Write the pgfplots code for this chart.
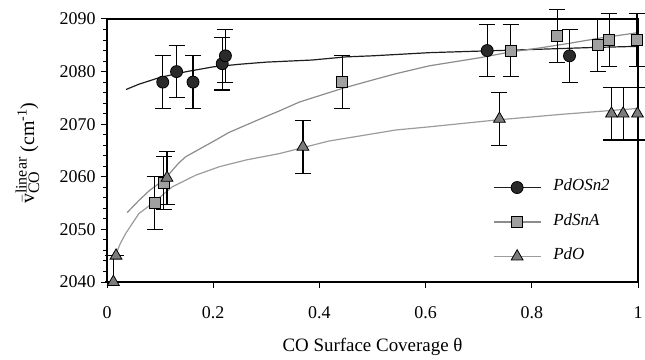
\documentclass[border=0pt]{standalone}
\usepackage{fontspec}
\setmainfont{Liberation Serif}
\usepackage{pgfplots}
\usepackage{pgfplotstable}
\pgfplotsset{compat=1.18}
\definecolor{cA}{HTML}{2A2A2A}
\definecolor{cB}{HTML}{A0A0A0}
\definecolor{cC}{HTML}{7C7C7C}
\definecolor{lA}{HTML}{1E1E1E}
\definecolor{lB}{HTML}{8C8C8C}
\definecolor{lC}{HTML}{9C9C9C}
\pgfplotstableread{
x y e
0.105 2078 5
0.131 2080 5
0.162 2078 5
0.217 2081.5 5
0.223 2083 5
0.716 2084 5
0.871 2083 5
}\ptsA
\pgfplotstableread{
x y e
0.090 2055 5
0.107 2058.8 5
0.443 2078 5
0.760 2084 5
0.848 2086.8 5
0.924 2085 5
0.946 2086 5
0.998 2086 5
}\ptsB
\pgfplotstableread{
x y ep em
0.012 2040 5 0
0.017 2045 0 0
0.113 2059.8 5 5
0.369 2065.7 5 5
0.739 2071 5 5
0.950 2072 5 5
0.972 2072 5 5
0.999 2072 5 5
}\ptsC
\pgfplotstableread{
x y
0.036 2076.6
0.06 2077.6
0.1 2078.9
0.15 2080.0
0.2 2080.9
0.25 2081.4
0.3 2081.8
0.386 2082.2
0.45 2082.8
0.5 2083.0
0.607 2083.6
0.67 2083.8
0.8 2084.2
0.92 2084.6
1.0 2084.8
}\fitA
\pgfplotstableread{
x y
0.038 2053.2
0.06 2055.5
0.08 2057.4
0.107 2059.4
0.135 2062.6
0.148 2063.8
0.205 2067.0
0.229 2068.4
0.3 2071.5
0.324 2072.5
0.362 2074.2
0.443 2076.8
0.5 2078.4
0.544 2079.6
0.607 2081.1
0.7 2082.6
0.758 2083.7
0.815 2084.5
0.872 2085.4
0.93 2086.4
1.0 2087.4
}\fitB
\pgfplotstableread{
x y
0.016 2045.1
0.025 2047.3
0.035 2049.2
0.060 2053.0
0.085 2054.9
0.123 2058.1
0.167 2060.3
0.211 2061.9
0.262 2063.2
0.324 2064.4
0.418 2066.8
0.544 2068.9
0.607 2069.5
0.733 2070.8
0.859 2071.9
1.0 2073.0
}\fitC
\begin{document}
\begin{tikzpicture}[x=1bp,y=1bp]
\useasboundingbox (0,0) rectangle (645,359);
\begin{axis}[
  at={(107bp,77bp)}, anchor=south west,
  scale only axis, width=531bp, height=263bp,
  xmin=0, xmax=1, ymin=2040, ymax=2090,
  clip=false,
  axis line style={line width=1.2bp},
  every tick/.style={black, line width=1bp},
  tick align=outside,
  major tick length=6bp, minor tick length=4bp,
  xtick={0,0.2,0.4,0.6,0.8,1}, xticklabels={0,0.2,0.4,0.6,0.8,1},
  ytick={2040,2050,2060,2070,2080,2090},
  yticklabels={2040,2050,2060,2070,2080,2090},
  minor y tick num=4,
  xtick pos=left, ytick pos=left,
  tick label style={font=\fontsize{18}{18}\selectfont},
  yticklabel style={xshift=-2bp},
  xticklabel style={yshift=-15bp},
  xlabel={CO Surface Coverage θ},
  xlabel style={at={(axis description cs:0.5,-0.245)}, anchor=center, font=\fontsize{19}{19}\selectfont},
  ylabel={$\bar{\hbox{v}}_{\hbox{\fontsize{16}{16}\selectfont CO}}^{\hbox{\fontsize{16}{16}\selectfont linear}}$ (cm\textsuperscript{-1})},
  ylabel style={at={(axis description cs:-0.150,0.49)}, anchor=center, rotate=0, font=\fontsize{20}{20}\selectfont},
  legend image code/.code={\draw[mark repeat=2,mark phase=2,#1] plot coordinates {(0bp,0bp) (23.5bp,0bp) (47bp,0bp)};},
  legend style={draw=none, fill=none, at={(axis description cs:0.727,0.228)}, anchor=west,
    font=\fontsize{17}{17}\selectfont\itshape, row sep=18.5bp, column sep=12bp,
    inner sep=0pt, outer sep=0pt, nodes={inner sep=0pt, text height=11bp, text depth=5bp}},
  legend cell align=left,
]
\addlegendimage{line width=1.2bp, color=lA, mark=*, mark size=6bp, mark options={fill=cA, draw=black, line width=0.8bp}}
\addlegendentry{PdOSn2}
\addlegendimage{line width=1.2bp, color=lB, mark=square*, mark size=5.5bp, mark options={fill=cB, draw=black, line width=0.8bp}}
\addlegendentry{PdSnA}
\addlegendimage{line width=1.2bp, color=lC, mark=triangle*, mark size=6.8bp, mark options={fill=cC, draw=black, line width=0.8bp}}
\addlegendentry{PdO}
% fitted curves
\addplot[forget plot, no marks, line width=1.2bp, color=lA] table[x=x,y=y] {\fitA};
\addplot[forget plot, no marks, line width=1.2bp, color=lB] table[x=x,y=y] {\fitB};
\addplot[forget plot, no marks, line width=1.2bp, color=lC] table[x=x,y=y] {\fitC};
% data points with error bars
\addplot[forget plot, only marks, mark=*, mark size=6bp, mark options={fill=cA, draw=black, line width=0.8bp},
  error bars/.cd, y dir=both, y explicit,
  error bar style={line width=1.2bp, black},
  error mark options={rotate=90, mark size=8bp, line width=1.2bp, black}]
  table[x=x, y=y, y error=e] {\ptsA};
\addplot[forget plot, only marks, mark=square*, mark size=5.5bp, mark options={fill=cB, draw=black, line width=0.8bp},
  error bars/.cd, y dir=both, y explicit,
  error bar style={line width=1.2bp, black},
  error mark options={rotate=90, mark size=8bp, line width=1.2bp, black}]
  table[x=x, y=y, y error=e] {\ptsB};
\addplot[forget plot, only marks, mark=triangle*, mark size=6.8bp, mark options={fill=cC, draw=black, line width=0.8bp},
  error bars/.cd, y dir=both, y explicit,
  error bar style={line width=1.2bp, black},
  error mark options={rotate=90, mark size=8bp, line width=1.2bp, black}]
  table[x=x, y=y, y error plus=ep, y error minus=em] {\ptsC};
\end{axis}
\end{tikzpicture}
\end{document}
